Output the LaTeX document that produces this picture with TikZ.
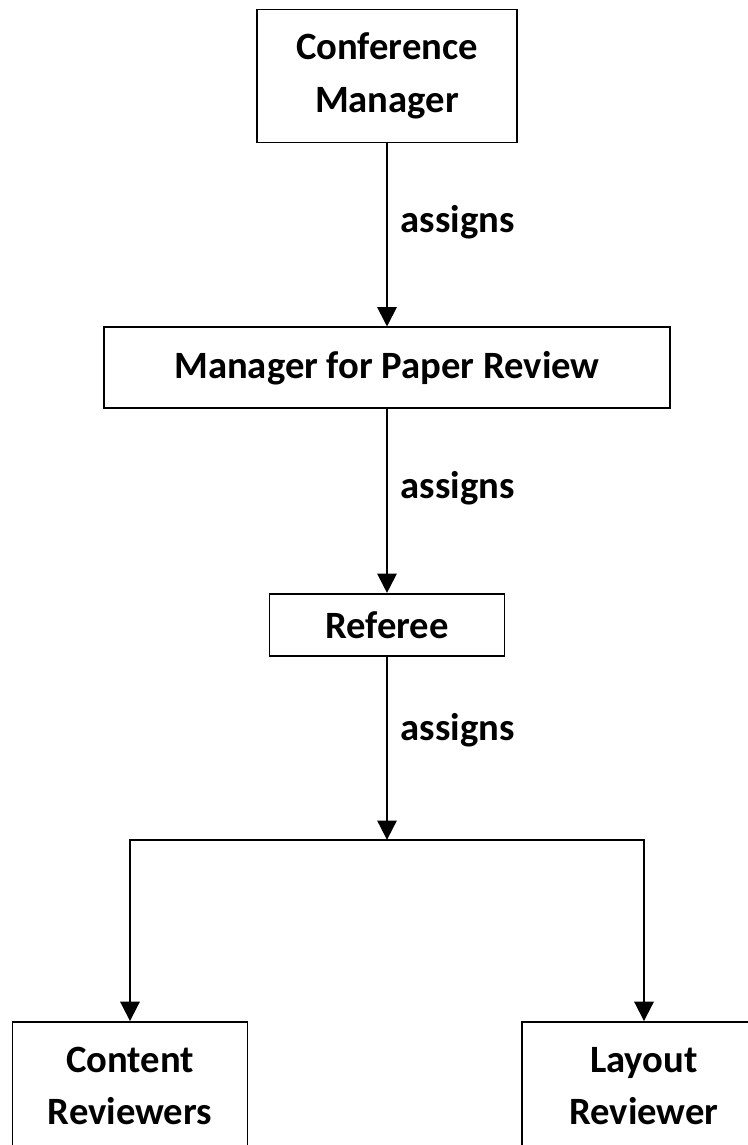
\documentclass[tikz,border=0pt]{standalone}
\usepackage{fontspec}
\setmainfont{Carlito}
\usepackage{tikz}
\usetikzlibrary{positioning,arrows.meta}

\tikzset{
  role/.style={draw,line width=1.1pt,align=center,inner sep=0pt,
    font=\bfseries\fontsize{22}{30}\selectfont},
  link/.style={->,line width=1.1pt},
  lbl/.style={font=\bfseries\fontsize{22}{26}\selectfont,xshift=4pt}
}

\begin{document}
\begin{tikzpicture}[x=0.02cm,y=-0.02cm,node distance=2cm,on grid,
      >={Triangle[length=11pt,width=11pt]}]
			\useasboundingbox (0,0) rectangle (747,1145);
			\node[role,minimum width=5.2cm,minimum height=2.66cm] (conf) at (387,76) {Conference\\Manager};
			\node[role,minimum width=11.32cm,minimum height=1.62cm] (mgr) [below=5.84cm of conf] {Manager for Paper Review};
			\node[role,minimum width=4.7cm,minimum height=1.24cm] (ref) [below=5.14cm of mgr] {Referee};
			\coordinate[below=4.3cm of ref] (split);
			\node[role,minimum width=4.7cm,minimum height=2.56cm] (content) at (130,1086) {Content\\Reviewers};
			\node[role,minimum width=4.88cm,minimum height=2.56cm] (layout) at (644,1086) {Layout\\Reviewer};
			\draw[link] (conf) -- node[lbl,right,pos=.43] {assigns} (mgr);
			\draw[link] (mgr) -- node[lbl,right,pos=.43] {assigns} (ref);
			\draw[link] (ref) -- node[lbl,right,pos=.4] {assigns} (split);
			\draw[link] (split) -| (content);
			\draw[link] (split) -| (layout);
		\end{tikzpicture}
\end{document}
